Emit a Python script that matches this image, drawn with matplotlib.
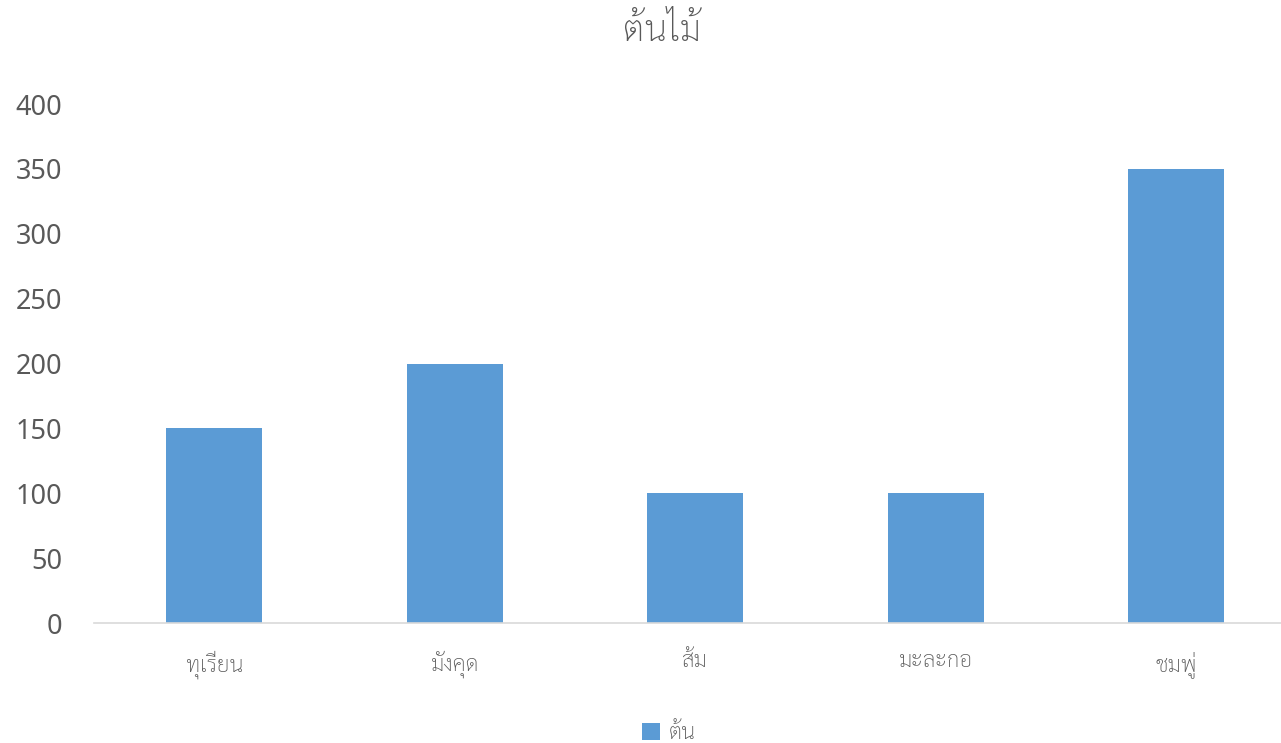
import matplotlib
matplotlib.use("Agg")
import matplotlib.pyplot as plt
from matplotlib.patches import Patch

categories = ["ทุเรียน", "มังคุด", "ส้ม", "มะละกอ", "ชมพู่"]
values = [150, 200, 100, 100, 350]
series_name = "ต้น"
title = "ต้นไม้"
yticks = [0, 50, 100, 150, 200, 250, 300, 350, 400]

plt.rcParams["font.family"] = ["Noto Sans", "Sarabun", "DejaVu Sans"]
thai_fam = ["Sarabun", "Noto Sans Thai Looped", "DejaVu Sans"]

bar_color = "#5B9BD5"
text_color = "#595959"

fig = plt.figure(figsize=(12.81, 7.43), dpi=100)
ax = fig.add_axes([0.0734, 0.1615, 0.9387, 0.6985])
ax.bar(range(len(categories)), values, width=0.4, color=bar_color)
ax.set_xlim(-0.5, len(categories) - 0.5)
ax.set_ylim(0, 400)
ax.set_yticks(yticks)
ax.set_xticks(range(len(categories)))
ax.set_xticklabels(categories, family=thai_fam, fontweight="light")
for s in ["top", "right", "left"]:
    ax.spines[s].set_visible(False)
ax.spines["bottom"].set_color("#D9D9D9")
ax.spines["bottom"].set_linewidth(1.2)
ax.tick_params(axis="both", length=0, colors=text_color)
ax.tick_params(axis="y", labelsize=19.5, pad=23)
ax.tick_params(axis="x", labelsize=16, pad=20)

fig.text(0.517, 0.958, title, ha="center", va="center", fontsize=26,
         color=text_color, family=thai_fam, fontweight="light")

handles = [Patch(facecolor=bar_color, label=series_name)]
leg = fig.legend(handles=handles, loc="center", bbox_to_anchor=(0.522, 0.013),
                 frameon=False, labelcolor=text_color,
                 handlelength=0.8, handleheight=0.8, handletextpad=0.4,
                 prop={"family": thai_fam, "weight": "light", "size": 16})

plt.savefig("out.png")
